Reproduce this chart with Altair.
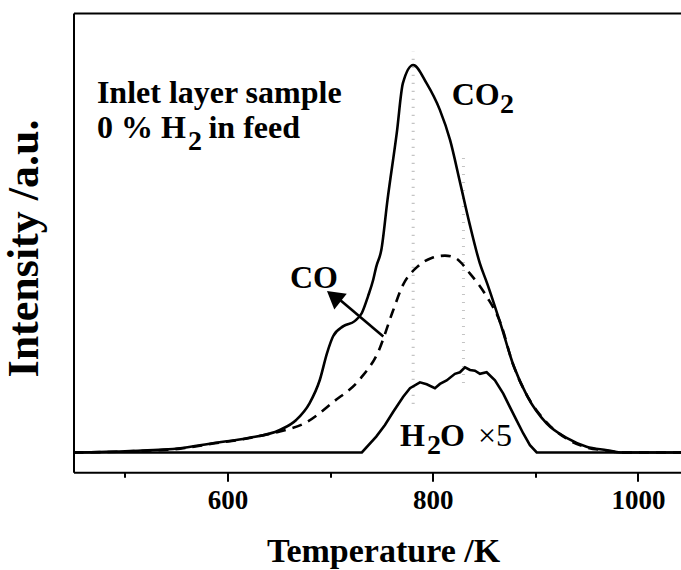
import altair as alt
import pandas as pd

# ---------------- data ----------------
temp_co2 = [450, 505, 554, 586, 619, 651, 667, 680, 690, 697, 703, 713, 724, 731, 737, 742,
            745, 750, 756, 765, 771, 781, 794, 807, 817, 827, 836, 846, 853, 866, 879, 892,
            911, 931, 950, 970, 983, 1042]
int_co2 = [0, 0.4, 1.1, 2.4, 3.7, 5.8, 8.4, 12.7, 18.7, 25.6, 30.0, 32.6, 33.9, 36.0, 40.3, 44.5,
           47.9, 52.3, 65.2, 82.4, 95.3, 100, 95.3, 88.4, 80.6, 69.3, 59.0, 48.8, 43.7, 33.3, 22.3, 14.6,
           7.5, 3.7, 1.5, 0.6, 0, 0]

temp_co = [450, 505, 554, 586, 619, 641, 651, 677, 703, 730, 747, 761, 771, 785, 799, 812,
           822, 836, 853, 866, 878, 891, 911, 931, 950, 970, 983, 1042]
int_co = [0, 0.3, 1.0, 2.3, 3.6, 4.8, 5.4, 7.8, 13.0, 19.2, 26.0, 36.3, 43.2, 47.9, 50.2, 50.8,
          50.2, 46.3, 40.1, 33.5, 23.0, 15.2, 7.8, 3.5, 1.3, 0.5, 0, 0]

temp_h2o = [450, 731, 745, 753.5, 761.6, 771.3, 777.9, 787.6, 794.2, 802.2, 807.1, 813.6, 821.7,
            826.6, 831.5, 836.4, 841.2, 846.1, 852.6, 860.7, 868.8, 875.3, 881.8, 888.3, 894.8,
            901.4, 1042]
int_h2o = [0, 0, 4.1, 7.1, 10.5, 14.4, 16.6, 18.1, 17.6, 16.6, 17.7, 18.6, 20.3,
           20.7, 22.0, 21.3, 21.1, 20.3, 20.7, 18.6, 15.2, 11.7, 8.3, 4.9, 1.9,
           0, 0]

x_ticks = [500, 600, 700, 800, 900, 1000]

peak_temps = [781, 830]
peak_low = [12.5, 17.9]
peak_high = [103.4, 76.0]

arrow_from = [751.9, 29.9]
arrow_to = [710.4, 39.2]
arrow_head = [703.6, 40.3]

ann_text = ["Inlet layer sample", "0 % H", "2", "in feed", "CO", "2", "CO", "H", "2", "O"]
ann_x = [472.8, 472.8, 561.5, 581.5, 818.5, 865.6, 660.9, 768.1, 794.4, 807.1]
ann_y = [90.3, 81.2, 78.1, 81.2, 89.7, 87.5, 42.5, 1.7, -0.4, 1.7]
ann_size = [32, 32, 28, 32, 32, 28, 32, 32, 28, 32]
ann2_text = ["\u00d75"]
ann2_x = [844.2]
ann2_y = [1.7]

XMIN, XMAX = 450, 1042
YMIN, YMAX = -5.11, 113.4

FONT = "Liberation Serif"

xscale = alt.Scale(domain=[XMIN, XMAX], nice=False, zero=False)
yscale = alt.Scale(domain=[YMIN, YMAX], nice=False, zero=False)

bottom_axis = alt.Axis(
    values=x_ticks, format="d", grid=False,
    labelExpr="datum.value % 200 === 0 ? datum.label : ''",
    tickSize={"condition": {"test": "datum.value % 200 === 0", "value": 9}, "value": 5},
    tickWidth=2, tickColor="black", domainWidth=2, domainColor="black",
    labelFont=FONT, labelFontWeight="bold", labelFontSize=27, labelColor="black",
    labelPadding=6,
    title="Temperature /K", titleFont=FONT, titleFontWeight="bold", titleFontSize=34,
    titleColor="black", titleX=309.5, titleY=88.7, titleBaseline="alphabetic", titleAlign="center",
)
top_axis = alt.Axis(orient="top", labels=False, ticks=False, grid=False, domainWidth=2,
                    domainColor="black", title=None)
y_axis = alt.Axis(
    labels=False, ticks=False, grid=False, domainWidth=2, domainColor="black",
    title="Intensity /a.u.", titleFont=FONT, titleFontWeight="bold", titleFontSize=44,
    titleColor="black", titleAngle=270, titleX=-36.5, titleY=235,
    titleBaseline="alphabetic", titleAlign="center",
)


def series(temps, vals):
    return pd.DataFrame({"T": temps, "I": vals})


def line_layer(df, x_axis, dash=None, interp="monotone"):
    kw = dict(color="black", strokeWidth=2.6, interpolate=interp, clip=True)
    if dash:
        kw["strokeDash"] = dash
    return alt.Chart(df).mark_line(**kw).encode(
        x=alt.X("T:Q", scale=xscale, axis=x_axis),
        y=alt.Y("I:Q", scale=yscale, axis=y_axis),
    )


co2 = line_layer(series(temp_co2, int_co2), bottom_axis)
co = line_layer(series(temp_co, int_co), None, dash=[10, 7])
h2o = line_layer(series(temp_h2o, int_h2o), top_axis, interp="linear")

peaks = pd.DataFrame({"T": peak_temps, "lo": peak_low, "hi": peak_high})
dotted = alt.Chart(peaks).mark_rule(color="#c4c4c4", strokeWidth=3, strokeDash=[1.2, 6.8]).encode(
    x=alt.X("T:Q", scale=xscale, axis=None),
    y=alt.Y("lo:Q", scale=yscale, axis=y_axis),
    y2="hi:Q",
)

arrow_df = pd.DataFrame({"x": [arrow_from[0]], "y": [arrow_from[1]],
                         "x2": [arrow_to[0]], "y2": [arrow_to[1]]})
arrow_line = alt.Chart(arrow_df).mark_rule(color="black", strokeWidth=2.6).encode(
    x=alt.X("x:Q", scale=xscale, axis=None),
    y=alt.Y("y:Q", scale=yscale, axis=y_axis),
    x2="x2:Q", y2="y2:Q",
)
head_df = pd.DataFrame({"x": [arrow_head[0]], "y": [arrow_head[1]]})
arrow_tip = alt.Chart(head_df).mark_point(
    shape="triangle-up", filled=True, size=400, angle=308.5, color="black", opacity=1
).encode(
    x=alt.X("x:Q", scale=xscale, axis=None),
    y=alt.Y("y:Q", scale=yscale, axis=y_axis),
)

ann = pd.DataFrame({"t": ann_text, "x": ann_x, "y": ann_y, "s": ann_size})
labels_bold = alt.Chart(ann).mark_text(
    font=FONT, fontWeight="bold", align="left", baseline="alphabetic", color="black"
).encode(
    x=alt.X("x:Q", scale=xscale, axis=None),
    y=alt.Y("y:Q", scale=yscale, axis=y_axis),
    text="t:N",
    size=alt.Size("s:Q", scale=None, legend=None),
)
ann2 = pd.DataFrame({"t": ann2_text, "x": ann2_x, "y": ann2_y})
labels_reg = alt.Chart(ann2).mark_text(
    font=FONT, fontWeight="normal", fontSize=32, align="left", baseline="alphabetic", color="black"
).encode(
    x=alt.X("x:Q", scale=xscale, axis=None),
    y=alt.Y("y:Q", scale=yscale, axis=y_axis),
    text="t:N",
)

chart = alt.layer(
    dotted, co2, co, h2o, arrow_line, arrow_tip, labels_bold, labels_reg
).resolve_axis(x="independent").properties(
    width=607.5, height=459.3,
    padding={"left": 73.5, "top": 13, "right": 0, "bottom": 97.7},
    autosize=alt.AutoSizeParams(type="none"),
    background="white",
).configure_view(stroke=None)

chart.save("out.html", embed_options={"renderer": "svg", "actions": False})
